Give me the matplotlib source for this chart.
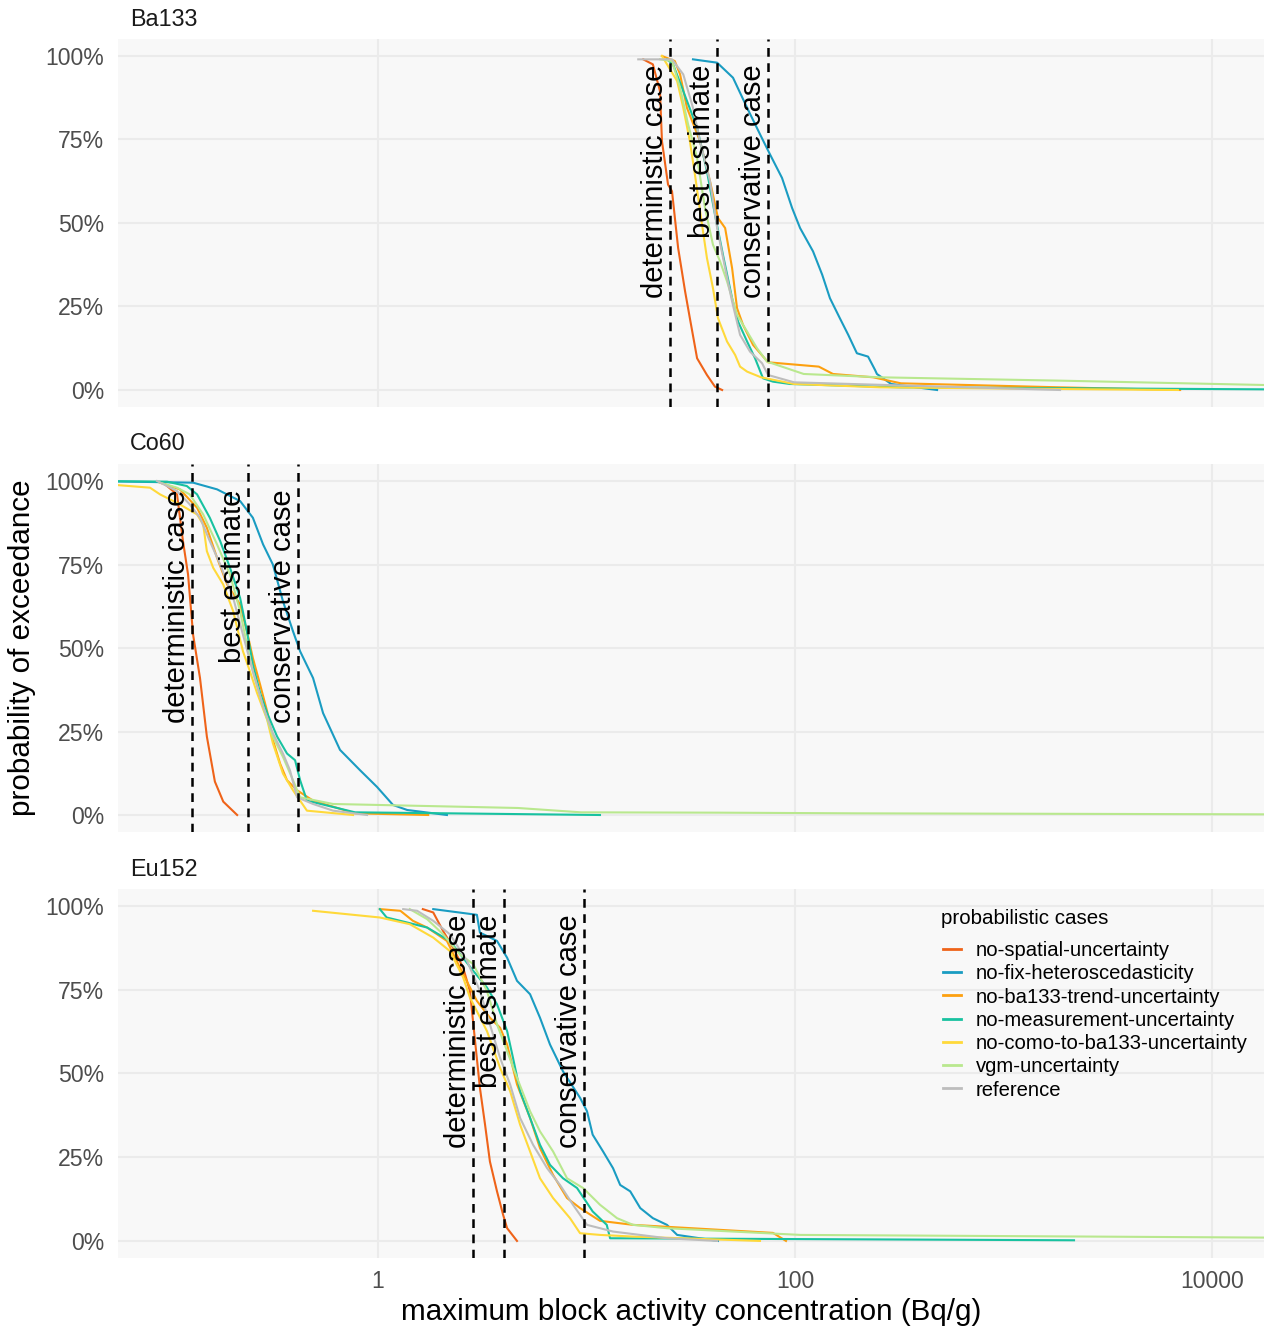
import matplotlib
matplotlib.use("Agg")
import matplotlib.pyplot as plt
from matplotlib.ticker import FixedLocator, NullLocator, FuncFormatter

plt.rcParams['font.family'] = ['Liberation Sans', 'DejaVu Sans']

# ---------------- data ----------------
isotopes = ["Ba133", "Co60", "Eu152"]
cases = ["no-spatial-uncertainty", "no-fix-heteroscedasticity", "no-ba133-trend-uncertainty",
         "no-measurement-uncertainty", "no-como-to-ba133-uncertainty", "vgm-uncertainty", "reference"]
case_colors = ["#EF6319", "#1A9CC2", "#FDA00F", "#18C2A0", "#FFD93A", "#B9E88E", "#BDBDBD"]
legend_title = "probabilistic cases"

vline_labels = ["deterministic case", "best estimate", "conservative case"]
ba133_vlines = [25.1, 42.3, 74.2]
co60_vlines = [0.128, 0.238, 0.413]
eu152_vlines = [2.86, 4.02, 9.73]

# Ba133
ba133_no_spatial_x = [18.7, 20.8, 22.5, 23.0, 24.6, 25.7, 27.5, 29.7, 31.3, 33.9, 37.8, 41.3, 44.7]
ba133_no_spatial_p = [0.99, 0.975, 0.895, 0.745, 0.615, 0.595, 0.425, 0.295, 0.215, 0.095, 0.045, 0.01, 0.0]
ba133_no_fix_x = [32.4, 42.3, 50.4, 58.9, 68.0, 75.9, 86.6, 96.8, 105.7, 122, 135, 147, 164, 180, 198, 224, 242, 247, 289, 480]
ba133_no_fix_p = [0.99, 0.98, 0.935, 0.845, 0.765, 0.705, 0.635, 0.545, 0.485, 0.415, 0.345, 0.275, 0.215, 0.165, 0.11, 0.10, 0.06, 0.048, 0.018, 0.0]
ba133_no_trend_x = [23.0, 26.5, 28.1, 30.3, 35.0, 39.1, 42.7, 46.2, 49.9, 52.7, 56.3, 62.9, 74.2, 130, 152, 237, 322, 1866, 7030]
ba133_no_trend_p = [1.0, 0.985, 0.945, 0.845, 0.745, 0.625, 0.515, 0.485, 0.365, 0.245, 0.195, 0.135, 0.083, 0.07, 0.048, 0.038, 0.02, 0.008, 0.0]
ba133_no_meas_x = [24.3, 26.0, 29.1, 33.9, 37.8, 41.3, 45.1, 49.9, 53.3, 58.9, 64.3, 70.2, 78.4, 94.6, 319, 17750]
ba133_no_meas_p = [0.99, 0.975, 0.895, 0.785, 0.655, 0.525, 0.405, 0.275, 0.205, 0.145, 0.095, 0.035, 0.025, 0.018, 0.008, 0.002]
ba133_no_como_x = [23.0, 27.2, 29.1, 31.3, 33.1, 35.8, 37.8, 40.4, 42.7, 47.2, 51.6, 54.5, 58.9, 68.7, 98.9, 256, 2780, 6870]
ba133_no_como_p = [1.0, 0.925, 0.845, 0.745, 0.645, 0.495, 0.395, 0.305, 0.215, 0.145, 0.105, 0.07, 0.055, 0.038, 0.018, 0.008, 0.002, 0.0]
ba133_vgm_x = [22.5, 25.7, 28.1, 30.7, 33.9, 37.0, 40.4, 43.7, 47.2, 52.7, 58.9, 65.7, 73.4, 110, 256, 1866, 17750]
ba133_vgm_p = [0.99, 0.985, 0.905, 0.795, 0.695, 0.545, 0.435, 0.385, 0.325, 0.225, 0.175, 0.125, 0.085, 0.048, 0.038, 0.028, 0.015]
ba133_ref_x = [17.7, 25.7, 29.1, 32.4, 35.0, 39.1, 42.3, 46.2, 49.9, 54.5, 60.8, 69.5, 74.2, 98.9, 1866]
ba133_ref_p = [0.99, 0.99, 0.945, 0.845, 0.745, 0.625, 0.485, 0.365, 0.265, 0.165, 0.115, 0.08, 0.045, 0.023, 0.0]

# Co60
co60_no_spatial_x = [0.0931, 0.1086, 0.116, 0.1227, 0.1297, 0.140, 0.151, 0.165, 0.181, 0.211]
co60_no_spatial_p = [0.995, 0.96, 0.82, 0.72, 0.54, 0.41, 0.235, 0.10, 0.04, 0.0]
co60_no_fix_x = [0.04, 0.1297, 0.169, 0.218, 0.251, 0.281, 0.313, 0.350, 0.391, 0.423, 0.488, 0.545, 0.657, 0.820, 0.989, 1.18, 1.38, 2.14]
co60_no_fix_p = [1.0, 0.995, 0.975, 0.94, 0.89, 0.81, 0.75, 0.64, 0.55, 0.49, 0.41, 0.305, 0.195, 0.134, 0.084, 0.03, 0.015, 0.0]
co60_no_trend_x = [0.090, 0.112, 0.1355, 0.151, 0.169, 0.189, 0.218, 0.235, 0.251, 0.272, 0.294, 0.313, 0.339, 0.366, 0.409, 0.488, 0.551, 0.776, 1.74]
co60_no_trend_p = [0.995, 0.975, 0.92, 0.86, 0.77, 0.69, 0.63, 0.55, 0.47, 0.39, 0.31, 0.225, 0.154, 0.104, 0.074, 0.043, 0.033, 0.005, 0.0]
co60_no_meas_x = [0.04, 0.0973, 0.121, 0.1355, 0.156, 0.175, 0.195, 0.218, 0.235, 0.251, 0.272, 0.294, 0.328, 0.366, 0.400, 0.423, 0.456, 0.776, 2.19, 11.6]
co60_no_meas_p = [1.0, 0.998, 0.985, 0.96, 0.89, 0.82, 0.74, 0.65, 0.55, 0.45, 0.365, 0.305, 0.235, 0.184, 0.164, 0.104, 0.043, 0.008, 0.005, 0.0]
co60_no_como_x = [0.04, 0.0806, 0.090, 0.112, 0.1355, 0.145, 0.151, 0.162, 0.181, 0.202, 0.225, 0.243, 0.263, 0.294, 0.313, 0.350, 0.391, 0.456, 0.759]
co60_no_como_p = [0.995, 0.98, 0.96, 0.93, 0.90, 0.87, 0.79, 0.74, 0.69, 0.61, 0.49, 0.43, 0.365, 0.285, 0.215, 0.124, 0.074, 0.013, 0.0]
co60_vgm_x = [0.090, 0.1086, 0.125, 0.145, 0.169, 0.195, 0.218, 0.235, 0.251, 0.281, 0.313, 0.350, 0.391, 0.423, 0.608, 4.69, 9.41, 43.2, 198, 4227, 17750]
co60_vgm_p = [0.995, 0.98, 0.96, 0.90, 0.81, 0.72, 0.61, 0.51, 0.43, 0.325, 0.235, 0.174, 0.104, 0.053, 0.033, 0.021, 0.008, 0.007, 0.005, 0.003, 0.002]
co60_ref_x = [0.0871, 0.1086, 0.125, 0.140, 0.156, 0.175, 0.202, 0.225, 0.251, 0.281, 0.313, 0.350, 0.378, 0.409, 0.488, 0.608, 0.886]
co60_ref_p = [1.0, 0.97, 0.93, 0.89, 0.82, 0.75, 0.65, 0.54, 0.43, 0.325, 0.245, 0.184, 0.134, 0.053, 0.033, 0.013, 0.0]

# Eu152
eu152_no_spatial_x = [1.64, 1.84, 2.05, 2.29, 2.56, 2.76, 2.92, 3.08, 3.26, 3.44, 3.72, 3.98, 4.16, 4.64]
eu152_no_spatial_p = [0.99, 0.98, 0.925, 0.875, 0.815, 0.745, 0.596, 0.457, 0.347, 0.237, 0.148, 0.078, 0.038, 0.0]
eu152_no_fix_x = [1.84, 2.98, 3.08, 3.72, 4.16, 4.64, 5.36, 5.98, 6.68, 7.71, 9.31, 10.05, 10.7, 12.0, 13.4, 14.5, 16.2, 18.1, 20.8, 24.3, 27.2, 42.7]
eu152_no_fix_p = [0.99, 0.973, 0.92, 0.895, 0.845, 0.776, 0.736, 0.666, 0.586, 0.506, 0.427, 0.387, 0.317, 0.267, 0.217, 0.167, 0.148, 0.098, 0.068, 0.048, 0.018, 0.0]
eu152_no_trend_x = [1.02, 1.28, 1.47, 1.72, 2.14, 2.56, 2.98, 3.44, 3.85, 4.16, 4.64, 5.36, 5.98, 6.91, 8.06, 9.31, 11.6, 16.7, 78.4, 90.5]
eu152_no_trend_p = [0.99, 0.985, 0.955, 0.935, 0.895, 0.796, 0.716, 0.666, 0.636, 0.586, 0.467, 0.367, 0.277, 0.197, 0.128, 0.098, 0.060, 0.048, 0.024, 0.0]
eu152_no_meas_x = [1.02, 1.10, 1.38, 1.72, 2.21, 2.86, 3.33, 3.72, 4.16, 4.44, 4.80, 5.36, 5.98, 6.68, 7.71, 9.00, 10.7, 12.5, 12.97, 2178]
eu152_no_meas_p = [0.99, 0.965, 0.95, 0.935, 0.895, 0.806, 0.756, 0.706, 0.626, 0.546, 0.447, 0.367, 0.287, 0.227, 0.187, 0.158, 0.088, 0.048, 0.008, 0.002]
eu152_no_como_x = [0.488, 1.02, 1.42, 1.84, 2.21, 2.56, 2.76, 3.33, 3.85, 4.30, 4.80, 5.36, 5.98, 6.91, 8.33, 9.31, 11.6, 16.7, 67.9]
eu152_no_como_p = [0.985, 0.965, 0.945, 0.905, 0.865, 0.786, 0.726, 0.626, 0.516, 0.447, 0.347, 0.267, 0.187, 0.128, 0.068, 0.023, 0.018, 0.013, 0.0]
eu152_vgm_x = [1.42, 1.72, 2.05, 2.47, 2.86, 3.33, 3.72, 4.16, 4.64, 5.36, 5.98, 6.91, 8.06, 9.62, 11.6, 14.0, 16.7, 24.3, 50.4, 106, 738, 17750]
eu152_vgm_p = [0.99, 0.96, 0.915, 0.855, 0.826, 0.746, 0.646, 0.566, 0.487, 0.387, 0.327, 0.267, 0.187, 0.158, 0.108, 0.068, 0.048, 0.038, 0.028, 0.018, 0.015, 0.01]
eu152_ref_x = [1.32, 1.54, 1.84, 2.21, 2.67, 3.08, 3.44, 3.85, 4.30, 4.80, 5.54, 6.47, 7.46, 8.61, 10.05, 13.4, 24.3, 42.3]
eu152_ref_p = [0.99, 0.985, 0.955, 0.915, 0.836, 0.746, 0.646, 0.546, 0.467, 0.367, 0.287, 0.217, 0.167, 0.108, 0.048, 0.028, 0.008, 0.0]

x_ticks = [1, 100, 10000]
x_tick_labels = ["1", "100", "10000"]
y_ticks = [0, 0.25, 0.5, 0.75, 1.0]

panel_series = {
    "Ba133": [(ba133_no_spatial_x, ba133_no_spatial_p), (ba133_no_fix_x, ba133_no_fix_p),
              (ba133_no_trend_x, ba133_no_trend_p), (ba133_no_meas_x, ba133_no_meas_p),
              (ba133_no_como_x, ba133_no_como_p), (ba133_vgm_x, ba133_vgm_p), (ba133_ref_x, ba133_ref_p)],
    "Co60": [(co60_no_spatial_x, co60_no_spatial_p), (co60_no_fix_x, co60_no_fix_p),
             (co60_no_trend_x, co60_no_trend_p), (co60_no_meas_x, co60_no_meas_p),
             (co60_no_como_x, co60_no_como_p), (co60_vgm_x, co60_vgm_p), (co60_ref_x, co60_ref_p)],
    "Eu152": [(eu152_no_spatial_x, eu152_no_spatial_p), (eu152_no_fix_x, eu152_no_fix_p),
              (eu152_no_trend_x, eu152_no_trend_p), (eu152_no_meas_x, eu152_no_meas_p),
              (eu152_no_como_x, eu152_no_como_p), (eu152_vgm_x, eu152_vgm_p), (eu152_ref_x, eu152_ref_p)],
}
panel_vlines = {"Ba133": ba133_vlines, "Co60": co60_vlines, "Eu152": eu152_vlines}

# ---------------- figure ----------------
W, H = 1264, 1329
fig = plt.figure(figsize=(W / 100, H / 100), dpi=100)
fig.patch.set_facecolor("white")

panel_px = [(39.3, 406.7), (464.3, 831.7), (889.0, 1257.7)]
left_px, right_px = 118, 1264
strip_y_px = [19, 444, 869]

axes = []
for i, iso in enumerate(isotopes):
    top, bot = panel_px[i]
    ax = fig.add_axes([left_px / W, 1 - bot / H, (right_px - left_px) / W, (bot - top) / H])
    axes.append(ax)
    ax.set_facecolor("#F8F8F8")
    ax.set_xscale("log")
    ax.set_xlim(0.0566, 17750)
    ax.set_ylim(-0.05, 1.05)
    for s in ax.spines.values():
        s.set_visible(False)
    ax.xaxis.set_major_locator(FixedLocator(x_ticks))
    ax.xaxis.set_minor_locator(NullLocator())
    ax.yaxis.set_major_locator(FixedLocator(y_ticks))
    ax.yaxis.set_minor_locator(NullLocator())
    ax.yaxis.set_major_formatter(FuncFormatter(lambda v, pos: f"{int(round(v * 100))}%"))
    ax.grid(True, which="major", color="#EBEBEB", linewidth=1.5)
    ax.set_axisbelow(True)
    ax.tick_params(axis="both", length=0, labelsize=16.6, labelcolor="#4D4D4D")
    ax.tick_params(axis="y", pad=10)
    ax.tick_params(axis="x", pad=9)
    if i < 2:
        ax.tick_params(axis="x", labelbottom=False)
    else:
        ax.set_xticklabels(x_tick_labels)

    for (xs, ps), col, name in zip(panel_series[iso], case_colors, cases):
        ax.plot(xs, ps, color=col, linewidth=1.5, label=name, solid_joinstyle="round")

    for xv, lab in zip(panel_vlines[iso], vline_labels):
        ax.axvline(xv, color="black", linewidth=1.8, linestyle=(0, (3.5, 2.6)))
        ax.annotate(lab, xy=(xv, 0.975), xycoords=("data", "data"),
                    xytext=(-5, 0), textcoords="offset points",
                    rotation=90, rotation_mode="anchor", ha="right", va="baseline",
                    fontsize=21, color="black")

    fig.text(130 / W, 1 - strip_y_px[i] / H, iso, fontsize=16.8, color="#1A1A1A",
             ha="left", va="center")

fig.text(0.5 * (left_px + right_px) / W, 1 - 1312 / H,
         "maximum block activity concentration (Bq/g)", fontsize=21.3,
         ha="center", va="center", color="black")
fig.text(22 / W, 1 - 648 / H, "probability of exceedance", fontsize=21.3,
         rotation=90, ha="center", va="center", color="black")

# legend
fig.text(941 / W, 1 - 918 / H, legend_title, fontsize=14.8, ha="left", va="center",
         color="black")
handles, labels = axes[2].get_legend_handles_labels()
leg = fig.legend(handles, labels, loc="upper left",
                 bbox_to_anchor=(943 / W, 1 - 941 / H), frameon=False,
                 fontsize=14.6, handlelength=0.9,
                 handletextpad=0.7, labelspacing=0.21, borderpad=0, borderaxespad=0)
for lh in leg.get_lines():
    lh.set_linewidth(2.0)

fig.savefig("out.png", dpi=100, facecolor="white")
